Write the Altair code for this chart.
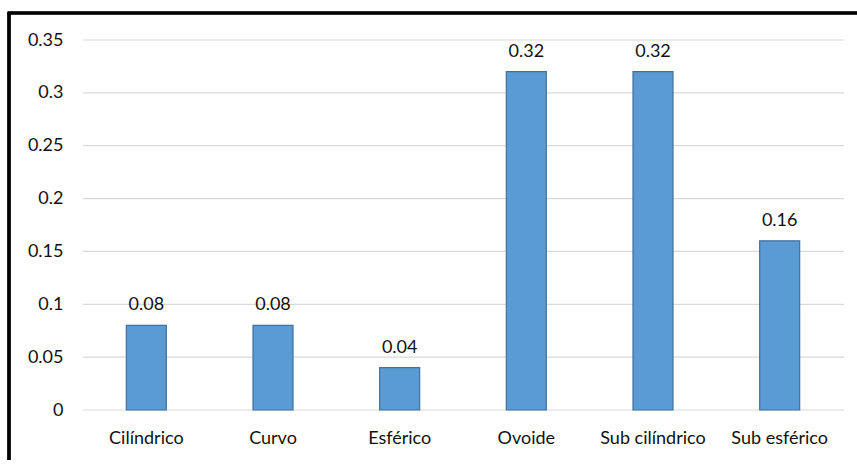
import altair as alt
import pandas as pd

categories = ["Cilíndrico", "Curvo", "Esférico", "Ovoide", "Sub cilíndrico", "Sub esférico"]
values = [0.08, 0.08, 0.04, 0.32, 0.32, 0.16]
y_ticks = [0, 0.05, 0.1, 0.15, 0.2, 0.25, 0.3, 0.35]

df = pd.DataFrame({"forma": categories, "valor": values})
grid_df = pd.DataFrame({"valor": y_ticks})

FONT = "Lato"
TEXT_COLOR = "#111111"

# The view spans the whole framed area; the plot itself sits inside it.
VIEW_W, VIEW_H = 848, 447
PLOT_LEFT, PLOT_RIGHT = 74, 834
PLOT_TOP, PLOT_BOTTOM = 27, 397

x_enc = alt.X(
    "forma:N",
    sort=categories,
    title=None,
    scale=alt.Scale(range=[PLOT_LEFT, PLOT_RIGHT], paddingInner=0, paddingOuter=0),
    axis=alt.Axis(
        labelAngle=0, domain=False, ticks=False, labelPadding=19,
        offset=-(VIEW_H - PLOT_BOTTOM),
        labelFontSize=18, labelFont=FONT, labelColor=TEXT_COLOR, grid=False,
    ),
)
y_enc = alt.Y(
    "valor:Q",
    title=None,
    scale=alt.Scale(domain=[0, 0.35], nice=False, range=[PLOT_BOTTOM, PLOT_TOP]),
    axis=alt.Axis(
        values=y_ticks, domain=False, ticks=False, labelPadding=20,
        offset=-PLOT_LEFT,
        labelFontSize=18, labelFont=FONT, labelColor=TEXT_COLOR,
        grid=False, format=".2~f",
    ),
)

# horizontal gridlines limited to the plot width
grid = alt.Chart(grid_df).mark_rule(color="#D9D9D9", strokeWidth=1.2).encode(
    y=y_enc, x=alt.value(PLOT_LEFT), x2=alt.value(PLOT_RIGHT + 1)
)

bars = alt.Chart(df).mark_bar(
    size=40, color="#5B9BD5", stroke="#41719C", strokeWidth=1.2
).encode(x=x_enc, y=y_enc)

labels = alt.Chart(df).mark_text(
    dy=-15, baseline="alphabetic", fontSize=18, font=FONT, color=TEXT_COLOR
).encode(
    x=alt.X("forma:N", sort=categories),
    y=y_enc,
    text=alt.Text("valor:Q", format=".2~f"),
)

# outer frame: top and left edges
frame_left = alt.Chart(df).mark_rule(color="black", strokeWidth=2.6).encode(
    x=alt.value(0), y=alt.value(0), y2=alt.value(VIEW_H)
)
frame_top = alt.Chart(df).mark_rule(color="black", strokeWidth=2.6).encode(
    x=alt.value(-1.3), x2=alt.value(VIEW_W), y=alt.value(0)
)

chart = alt.layer(grid, bars, labels, frame_left, frame_top).properties(
    width=VIEW_W,
    height=VIEW_H,
    autosize=alt.AutoSizeParams(type="none"),
    padding={"left": 9, "top": 13, "right": 0, "bottom": 0},
    background="white",
).configure_view(stroke=None)

chart.save("out.html", embed_options={"renderer": "svg", "actions": False})
